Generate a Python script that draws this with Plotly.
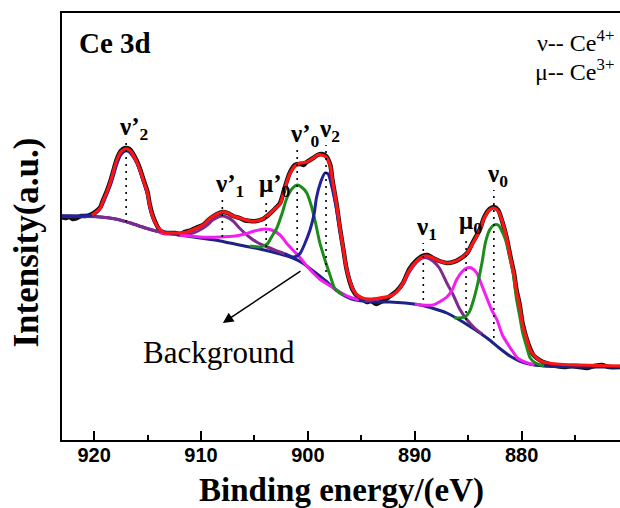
import plotly.graph_objects as go

SERIF = "Liberation Serif"
SANS = "Liberation Sans"

X_RANGE = [923.0, 870.8]
Y_RANGE = [0, 427]
X_TICKS = [920, 910, 900, 890, 880]

# measured spectrum (black)
DATA_E = [923.0, 922.7, 922.3, 922.0, 921.6, 921.2, 920.8, 920.4, 919.9, 919.4, 919.2, 918.8, 918.5,
          918.2, 917.9, 917.5, 917.1, 916.7, 916.4, 916.0, 915.7, 915.4, 915.0, 914.8, 914.5, 914.1,
          913.8, 913.4, 912.9, 912.4, 912.0, 911.5, 910.9, 910.3, 909.8, 909.2, 908.5, 908.0, 907.5,
          907.0, 906.4, 906.0, 905.4, 904.8, 904.2, 903.6, 903.1, 902.6, 902.2, 901.7, 901.2, 900.7,
          900.4, 900.1, 899.5, 899.1, 898.7, 898.3, 897.9, 897.7, 897.3, 897.0, 896.7, 896.4, 896.1,
          895.8, 895.4, 894.9, 894.5, 894.1, 893.6, 893.2, 892.8, 892.3, 891.7, 891.1, 890.5, 889.8,
          889.3, 888.8, 888.3, 887.7, 887.0, 886.4, 885.8, 885.1, 884.6, 883.9, 883.5, 883.0, 882.6,
          882.2, 881.8, 881.4, 881.1, 880.7, 880.5, 880.2, 879.9, 879.5, 879.2, 878.9, 878.6, 878.0,
          877.4, 876.7, 876.0, 875.3, 874.6, 873.9, 873.2, 872.5, 871.8, 870.8]
DATA_I = [223, 222, 223, 221, 222, 224, 224, 225, 228, 233, 239, 249, 258,
          269, 280, 289, 292, 291, 287, 279, 271, 261, 248, 236, 224, 214,
          209, 207, 207, 207, 206, 208, 210, 213, 215, 221, 226, 228, 227,
          224, 222, 220, 219, 219, 221, 226, 231, 237, 251, 267, 275, 276,
          275, 278, 282, 285, 286, 284, 275, 260, 235, 212, 192, 172, 159,
          150, 144, 141, 138, 139, 136, 138, 140, 144, 149, 157, 171, 180,
          184, 185, 182, 179, 177, 178, 181, 187, 197, 211, 223, 231, 233,
          230, 218, 202, 186, 166, 151, 136, 116, 100, 91, 85, 82, 78,
          76, 74, 73, 74, 73, 72, 74, 75, 73, 73]

# envelope fit (red)
FIT_E = [920.2, 919.9, 919.4, 919.2, 918.8, 918.5, 918.2, 917.9, 917.5, 917.1, 916.7,
         916.4, 916.0, 915.7, 915.4, 915.0, 914.8, 914.5, 914.1, 913.8, 913.4, 912.9, 912.0, 911.3,
         910.6, 909.8, 909.2, 908.5, 908.0, 907.5, 907.0, 906.4, 905.4, 904.8, 904.2, 903.6, 903.1,
         902.6, 902.2, 901.7, 901.2, 900.7, 900.1, 899.5, 899.1, 898.7, 898.3, 897.9, 897.7, 897.3,
         897.0, 896.7, 896.4, 896.1, 895.8, 895.4, 894.9, 894.2, 893.3, 892.3, 891.7, 891.1, 890.5,
         889.8, 889.3, 888.8, 888.3, 887.7, 887.0, 886.4, 885.8, 885.1, 884.6, 883.9, 883.5, 883.0,
         882.6, 882.2, 881.8, 881.4, 881.1, 880.7, 880.5, 880.2, 879.9, 879.5, 879.2, 878.6, 878.0,
         876.7, 874.6, 870.8]
FIT_I = [225, 227, 232, 238, 248, 257, 268, 279, 288, 291, 290,
         286, 278, 270, 260, 247, 235, 223, 214, 210, 207, 207, 207, 208,
         211, 215, 221, 226, 228, 227, 224, 222, 219, 219, 221, 226, 231,
         236, 250, 266, 274, 277, 278, 282, 285, 285, 283, 274, 260, 235,
         212, 192, 172, 160, 151, 145, 142, 141, 142, 144, 148, 157, 170,
         179, 183, 184, 182, 179, 177, 178, 181, 187, 196, 210, 222, 230,
         232, 229, 218, 202, 185, 165, 150, 135, 115, 100, 90, 82, 78,
         76, 75, 74]

# Shirley-type background (navy)
BG_E = [923.0, 920.8, 919.4, 918.0, 916.6, 915.2, 913.8, 912.0, 910.1, 908.2, 906.4, 904.5, 902.6,
        901.4, 900.5, 899.5, 898.9, 898.2, 897.5, 896.7, 895.9, 894.9, 893.7, 892.3, 890.9, 889.5,
        888.1, 887.0, 885.8, 884.9, 883.9, 883.0, 882.1, 881.1, 880.2, 879.3, 877.9, 874.6, 870.8]
BG_I = [224, 224, 223, 221, 217, 212, 208, 205, 202, 199, 195, 191, 186,
        182, 177, 169, 164, 158, 151, 145, 141, 139, 138, 138, 137, 135,
        131, 127, 120, 114, 107, 100, 92, 84, 79, 76, 74, 73, 73]

# fitted components
V2P_E = [923.0, 920.8, 920.1, 919.6, 919.2, 918.8, 918.5, 918.2, 917.9, 917.5, 917.1, 916.7, 916.4,
         916.0, 915.7, 915.4, 915.0, 914.8, 914.5, 914.1, 913.8, 913.4, 912.9, 912.0]
V2P_I = [224, 224, 225, 229, 236, 246, 254, 264, 275, 285, 289, 288, 284,
         277, 269, 259, 245, 233, 222, 214, 210, 208, 207, 205]

V1P_E = [923.0, 919.4, 918.0, 916.6, 915.2, 913.8, 912.4, 911.0, 910.1, 909.4, 908.9, 908.4, 908.0,
         907.6, 907.0, 906.4, 905.6, 904.8, 903.8, 902.6, 901.7]
V1P_I = [224, 223, 221, 217, 212, 208, 206, 206, 210, 215, 220, 223, 224,
         223, 219, 212, 204, 198, 193, 188, 184]

U0P_E = [913.8, 912.0, 910.1, 908.2, 906.8, 905.9, 905.0, 904.0, 903.4, 902.6, 902.0, 901.4, 900.7,
         900.1, 899.5, 898.9, 897.9, 897.0, 896.1, 895.2]
U0P_I = [207, 205, 203, 203, 204, 206, 209, 211, 210, 205, 197, 190, 182,
         174, 167, 161, 154, 148, 143, 140]

V0P_E = [905.4, 904.5, 903.8, 903.4, 902.9, 902.4, 902.0, 901.5, 901.0, 900.6, 900.1, 899.7, 899.3,
         898.9, 898.4, 897.9, 897.5, 897.0, 896.7]
V0P_I = [194, 193, 196, 203, 212, 227, 241, 251, 255, 253, 247, 235, 218,
         198, 180, 164, 152, 147, 145]

V2_E = [902.2, 901.4, 901.0, 900.7, 900.3, 899.8, 899.4, 899.2, 898.8, 898.4, 898.1, 897.8, 897.4,
        897.0, 896.6, 896.3, 895.8, 895.3, 894.7]
V2_I = [186, 183, 184, 187, 196, 210, 227, 242, 258, 267, 266, 255, 235,
        210, 185, 168, 152, 143, 139]

V1_E = [894.7, 893.3, 892.3, 891.7, 891.1, 890.5, 889.8, 889.3, 888.8, 888.3, 887.7, 887.0, 886.4,
        885.8, 885.1, 884.4, 883.7]
V1_I = [139, 141, 144, 148, 156, 168, 178, 182, 182, 179, 172, 157, 145,
        131, 120, 112, 106]

U0_E = [890.0, 889.3, 888.3, 887.7, 887.0, 886.5, 886.1, 885.6, 885.1, 884.7, 884.2, 883.7, 883.3,
        882.8, 882.3, 881.8, 881.3, 880.8, 880.4, 879.7, 878.8]
U0_I = [136, 135, 135, 138, 143, 150, 160, 168, 172, 172, 167, 154, 143,
        130, 120, 105, 96, 88, 82, 78, 75]

V0_E = [886.3, 885.3, 884.9, 884.5, 884.1, 883.7, 883.4, 883.0, 882.6, 882.2, 881.9, 881.5, 881.1,
        880.8, 880.5, 880.2, 879.9, 879.5, 879.2, 878.7, 877.9]
V0_I = [122, 123, 128, 140, 157, 178, 197, 210, 215, 215, 210, 200, 182,
        167, 142, 125, 107, 92, 82, 77, 74]

# peak markers
PEAK_LABELS = ["ν’<sub>2</sub>", "ν’<sub>1</sub>", "μ’<sub>0</sub>", "ν’<sub>0</sub>",
               "ν<sub>2</sub>", "ν<sub>1</sub>", "μ<sub>0</sub>", "ν<sub>0</sub>"]
PEAK_E = [917.0, 908.0, 903.9, 901.0, 898.3, 889.2, 885.2, 882.6]
PEAK_TOP = [297, 240, 240, 290, 295, 197, 203, 250]
PEAK_BOT = [218, 203, 193, 190, 168, 140, 120, 102]

C_RED = "#ff1414"
C_BLACK = "#111111"
C_NAVY = "#1c2384"
C_BLUE = "#21219c"
C_PURPLE = "#7e2a8e"
C_MAGENTA = "#f21ef2"
C_GREEN = "#1d8c1d"

fig = go.Figure()


def add_curve(e, i, color, width):
    fig.add_trace(go.Scatter(
        x=e, y=i, mode="lines",
        line=dict(color=color, width=width, shape="spline", smoothing=0.7),
        hoverinfo="skip", showlegend=False))


add_curve(DATA_E, DATA_I, C_BLACK, 4.5)
add_curve(BG_E, BG_I, C_NAVY, 3)
add_curve(V1P_E, V1P_I, C_PURPLE, 3)
add_curve(V1_E, V1_I, C_PURPLE, 3)
add_curve(U0P_E, U0P_I, C_MAGENTA, 3)
add_curve(U0_E, U0_I, C_MAGENTA, 3)
add_curve(V0P_E, V0P_I, C_GREEN, 3)
add_curve(V0_E, V0_I, C_GREEN, 3)
add_curve(V2P_E, V2P_I, C_BLUE, 3)
add_curve(V2_E, V2_I, C_BLUE, 3)
add_curve(FIT_E, FIT_I, C_RED, 3.2)

for e, top, bot in zip(PEAK_E, PEAK_TOP, PEAK_BOT):
    fig.add_trace(go.Scatter(
        x=[e, e], y=[bot, top], mode="lines",
        line=dict(color="black", width=1.6, dash="2px,5px"),
        hoverinfo="skip", showlegend=False))

annotations = []
for lab, e, top in zip(PEAK_LABELS, PEAK_E, PEAK_TOP):
    annotations.append(dict(
        x=e, y=top, xref="x", yref="y", text=lab, showarrow=False,
        xanchor="left", yanchor="bottom", xshift=-9, yshift=-3,
        font=dict(family=SERIF, size=25, color="black", weight="bold")))

# arrow pointing to background
annotations.append(dict(
    x=907.95, y=117, ax=900.55, ay=170, xref="x", yref="y", axref="x", ayref="y",
    text="", showarrow=True, arrowhead=2, arrowsize=1.4, arrowwidth=1.5, arrowcolor="black"))

annotations += [
    dict(text="Background", x=0.282, y=0.204, xref="paper", yref="paper",
         xanchor="center", yanchor="middle", showarrow=False,
         font=dict(family=SERIF, size=31, color="black")),
    dict(text="Ce 3d", x=0.027, y=0.93, xref="paper", yref="paper",
         xanchor="left", yanchor="middle", showarrow=False,
         font=dict(family=SERIF, size=29, color="black", weight="bold")),
    dict(text="ν-- Ce<sup>4+</sup>", x=0.992, y=0.934, xref="paper", yref="paper",
         xanchor="right", yanchor="middle", showarrow=False,
         font=dict(family=SERIF, size=24, color="black")),
    dict(text="μ-- Ce<sup>3+</sup>", x=0.992, y=0.866, xref="paper", yref="paper",
         xanchor="right", yanchor="middle", showarrow=False,
         font=dict(family=SERIF, size=24, color="black")),
    dict(text="<b>Binding energy/(eV)</b>", x=0.5, y=-0.119, xref="paper", yref="paper",
         xanchor="center", yanchor="middle", showarrow=False,
         font=dict(family=SERIF, size=33, color="black")),
    dict(text="<b>Intensity(a.u.)</b>", x=-0.063, y=0.462, xref="paper", yref="paper",
         xanchor="center", yanchor="middle", showarrow=False, textangle=-90,
         font=dict(family=SERIF, size=35, color="black")),
]

fig.update_layout(
    width=620, height=508,
    margin=dict(l=62, r=0, t=13, b=68),
    paper_bgcolor="white", plot_bgcolor="white",
    showlegend=False,
    annotations=annotations,
)
fig.update_xaxes(
    range=X_RANGE, tickvals=X_TICKS, ticktext=["<b>%d</b>" % t for t in X_TICKS],
    showline=True, linecolor="black", linewidth=2, mirror=True,
    ticks="inside", ticklen=9, tickwidth=2, tickcolor="black",
    ticklabelstandoff=-4,
    minor=dict(dtick=5, tick0=880, ticks="inside", ticklen=5, tickwidth=2,
               tickcolor="black", showgrid=False),
    showgrid=False, zeroline=False,
    tickfont=dict(family=SANS, size=20, color="black"),
)
fig.update_yaxes(
    range=Y_RANGE, showline=True, linecolor="black", linewidth=2, mirror=False,
    ticks="", showticklabels=False, showgrid=False, zeroline=False,
)

fig.write_html("out.html")
